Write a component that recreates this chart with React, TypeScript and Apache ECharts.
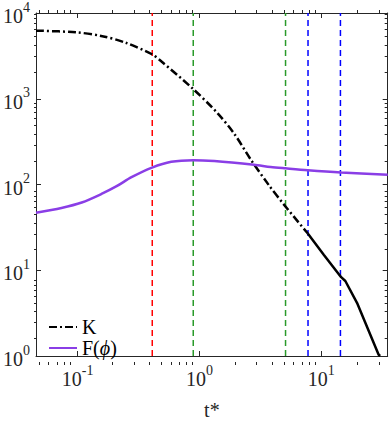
import React, { useEffect, useRef } from "react";
import * as echarts from "echarts";

// ---- axis ranges & ticks ----
const X_MIN = 0.0455;
const X_MAX = 35.2;
const Y_MIN = 1;
const Y_MAX = 10000;
const xMajorTicks = [0.1, 1, 10];
const xMinorTicks = [0.05, 0.06, 0.07, 0.08, 0.09, 0.2, 0.3, 0.4, 0.5, 0.6, 0.7, 0.8, 0.9, 2, 3, 4, 5, 6, 7, 8, 9, 20, 30];
const yMajorTicks = [1, 10, 100, 1000, 10000];
const yMinorTicks = [2, 3, 4, 5, 6, 7, 8, 9, 20, 30, 40, 50, 60, 70, 80, 90, 200, 300, 400, 500, 600, 700, 800, 900, 2000, 3000, 4000, 5000, 6000, 7000, 8000, 9000];

// ---- series data ----
const kDashT = [0.0455, 0.0965, 0.1595, 0.247, 0.408, 0.486, 0.883, 1.413, 1.932, 2.644, 3.73, 4.95, 7.77];
const kDashV = [6223, 5957, 5370, 4508, 3304, 2735, 1312, 676, 391, 195, 97.7, 58.3, 26.8];
const kSolidT = [7.77, 10.5, 14.6, 15.8, 19.7, 29.6, 30.5];
const kSolidV = [26.8, 15.2, 8.3, 7.5, 4.17, 1.04, 1.0];
const fT = [0.0455, 0.0736, 0.108, 0.157, 0.209, 0.277, 0.408, 0.587, 0.889, 1.327, 2.81, 3.85, 5.11, 7.77, 14.6, 35.2];
const fV = [46.9, 53.3, 61.7, 77.6, 95.5, 121.6, 157.4, 184, 192.3, 187.5, 169.8, 160.3, 154.5, 146.9, 138.4, 130.3];
const vLineT = [0.41, 0.89, 5.1, 7.8, 14.4];

// ---- styles ----
const vLineColors = ["#ff0000", "#2a9a2a", "#2a9a2a", "#0000ff", "#0000ff"];
const FONT = "'Liberation Serif', 'Times New Roman', serif";
const AX = "#262626";
const PURPLE = "#8a3ee6";

const zip = (a: number[], b: number[]) => a.map((v, i) => [v, b[i]]);

const labelRich = {
  b: { fontSize: 20, fontFamily: FONT, color: AX, lineHeight: 20, padding: [6, 0, 0, 0] },
  s: { fontSize: 14, fontFamily: FONT, color: AX, lineHeight: 14, padding: [0, 0, 12, 0] },
};
const powFormatter = (v: number) => `{b|10}{s|${Math.round(Math.log10(v))}}`;

function makeAxis(
  kind: "x" | "y",
  gridIndex: number,
  position: string,
  ticks: number[],
  len: number,
  showLine: boolean,
  showLabel: boolean
): any {
  return {
    type: "log",
    gridIndex,
    position,
    min: kind === "x" ? X_MIN : Y_MIN,
    max: kind === "x" ? X_MAX : Y_MAX,
    axisLine: { show: showLine, onZero: false, lineStyle: { color: AX, width: 1 } },
    axisTick: { show: true, inside: true, length: len, customValues: ticks, lineStyle: { color: AX, width: 1 } },
    axisLabel: showLabel
      ? { show: true, customValues: ticks, formatter: powFormatter, rich: labelRich, margin: kind === "x" ? 10 : 6 }
      : { show: false },
    splitLine: { show: false },
    minorTick: { show: false },
    minorSplitLine: { show: false },
  };
}

export default function App() {
  const ref = useRef<HTMLDivElement>(null);
  useEffect(() => {
    if (!ref.current) return;
    const chart = echarts.init(ref.current, undefined, { renderer: "svg" });
    const gridRect = { left: 34, top: 10, width: 353.7, height: 355 };

    const xMain = makeAxis("x", 0, "bottom", xMajorTicks, 5, true, true);
    xMain.name = "t*";
    xMain.nameLocation = "middle";
    xMain.nameGap = 44;
    xMain.nameTextStyle = { fontSize: 20, fontFamily: FONT, color: AX };

    const vSeries = vLineT.map((t, i) => ({
      name: "v" + i,
      type: "line",
      xAxisIndex: 0,
      yAxisIndex: 0,
      data: [
        [t, Y_MIN],
        [t, Y_MAX],
      ],
      symbol: "none",
      silent: true,
      lineStyle: { color: vLineColors[i], width: 1.5, type: [6, 4] },
      z: 1,
    }));

    chart.setOption({
      animation: false,
      backgroundColor: "#ffffff",
      grid: [
        { ...gridRect, containLabel: false },
        { ...gridRect, containLabel: false },
      ],
      xAxis: [
        xMain,
        makeAxis("x", 0, "top", xMajorTicks, 5, true, false),
        makeAxis("x", 1, "bottom", xMinorTicks, 3, false, false),
        makeAxis("x", 1, "top", xMinorTicks, 3, false, false),
      ],
      yAxis: [
        makeAxis("y", 0, "left", yMajorTicks, 5, true, true),
        makeAxis("y", 0, "right", yMajorTicks, 5, true, false),
        makeAxis("y", 1, "left", yMinorTicks, 3, false, false),
        makeAxis("y", 1, "right", yMinorTicks, 3, false, false),
      ],
      legend: {
        data: ["K", "F(ϕ)"],
        orient: "vertical",
        left: 43,
        top: 312,
        itemWidth: 28,
        itemHeight: 14,
        itemGap: 1,
        itemStyle: { opacity: 0 },
        textStyle: {
          fontSize: 20,
          fontFamily: FONT,
          color: "#000",
          lineHeight: 20,
          rich: { i: { fontSize: 20, fontFamily: FONT, fontStyle: "italic", color: "#000" } },
        },
        formatter: (name: string) => (name === "F(ϕ)" ? "F({i|ϕ})" : name),
      },
      series: [
        ...vSeries,
        {
          name: "K",
          type: "line",
          xAxisIndex: 0,
          yAxisIndex: 0,
          data: zip(kDashT, kDashV),
          symbol: "none",
          smooth: 0.3,
          lineStyle: { color: "#000", width: 2.5, type: [8, 3, 2, 3] },
          itemStyle: { color: "#000" },
          z: 3,
        },
        {
          name: "K_dense",
          type: "line",
          xAxisIndex: 0,
          yAxisIndex: 0,
          data: zip(kSolidT, kSolidV),
          symbol: "none",
          lineStyle: { color: "#000", width: 2.5 },
          itemStyle: { color: "#000" },
          z: 3,
        },
        {
          name: "F(ϕ)",
          type: "line",
          xAxisIndex: 0,
          yAxisIndex: 0,
          data: zip(fT, fV),
          symbol: "none",
          smooth: 0.3,
          lineStyle: { color: PURPLE, width: 2.5 },
          itemStyle: { color: PURPLE },
          z: 4,
        },
      ],
    });
    return () => chart.dispose();
  }, []);
  return (
    <div
      ref={ref}
      style={{ position: "fixed", left: 0, top: 0, width: 389, height: 425, background: "#fff" }}
    />
  );
}
